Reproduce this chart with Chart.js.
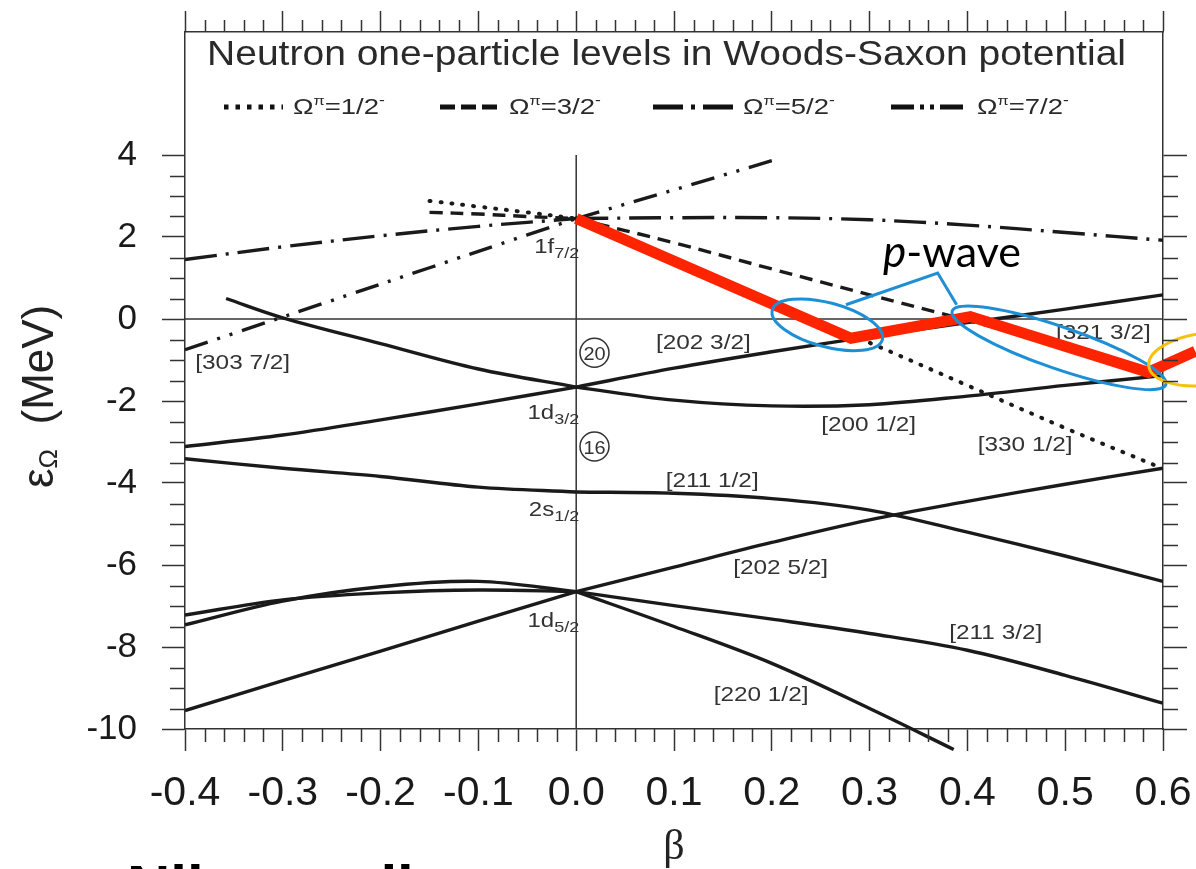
<!DOCTYPE html>
<html>
<head>
<meta charset="utf-8">
<script src="https://cdn.jsdelivr.net/npm/chart.js@4.4.1/dist/chart.umd.min.js"></script>
<style>
  html, body { margin: 0; padding: 0; background: #fff; }
  #wrap { width: 1196px; height: 869px; position: relative; }
</style>
</head>
<body>
<div id="wrap"><canvas id="chart"></canvas></div>
<script>
// ---- axes ----
const xTicks = [-0.4, -0.3, -0.2, -0.1, 0, 0.1, 0.2, 0.3, 0.4, 0.5, 0.6];
const yTicks = [-10, -8, -6, -4, -2, 0, 2, 4];

// ---- deformation grids ----
const betaLeft = [-0.4, -0.3, -0.2, -0.1, 0];
const betaRight = [0, 0.1, 0.2, 0.3, 0.4, 0.5, 0.6];
const betaNearLeft = [-0.15, -0.1, -0.05, 0];

// ---- positive parity levels (solid), MeV ----
const n202_52R = [-6.65, -6.05, -5.45, -4.9, -4.45, -4.03, -3.64];
const n202_52L = [-9.55, -8.82, -8.1, -7.37, -6.65];
const n211_32R = [-6.65, -6.99, -7.32, -7.67, -8.08, -8.69, -9.37];
const n220_12Beta = [0, 0.1, 0.2, 0.3, 0.386];
const n220_12R = [-6.65, -7.5, -8.4, -9.5, -10.5];
const d52HumpL = [-7.46, -6.88, -6.53, -6.4, -6.65];
const d52FlatL = [-7.22, -6.85, -6.68, -6.61, -6.65];
const n202_32R = [-1.66, -1.2, -0.8, -0.43, -0.09, 0.24, 0.59];
const n202_32L = [-3.11, -2.83, -2.46, -2.07, -1.66];
const n200_12R = [-1.66, -1.98, -2.12, -2.09, -1.88, -1.62, -1.38];
const n200_12LBeta = [-0.358, -0.3, -0.2, -0.1, 0];
const n200_12L = [0.5, 0.03, -0.6, -1.22, -1.66];
const n211_12R = [-4.22, -4.25, -4.38, -4.66, -5.2, -5.78, -6.4];
const n211_12L = [-3.41, -3.64, -3.84, -4.1, -4.22];

// ---- negative parity levels from 1f7/2 ----
const om12R = [2.45, 1.4, 0.4, -0.58, -1.62, -2.66, -3.65];
const om12L = [2.88, 2.74, 2.6, 2.45];
const om32R = [2.45, 1.86, 1.22, 0.59, -0.03, -0.68, -1.33];
const om32L = [2.6, 2.56, 2.5, 2.45];
const om52R = [2.45, 2.47, 2.47, 2.42, 2.29, 2.11, 1.92];
const om52L = [1.45, 1.76, 2.03, 2.26, 2.45];
const om72RBeta = [0, 0.1, 0.2];
const om72R = [2.45, 3.15, 3.86];
const om72L = [-0.75, 0.05, 0.85, 1.65, 2.45];

// ---- highlighted p-wave path ----
const pwaveBeta = [0, 0.281, 0.403, 0.585, 0.633];
const pwaveE = [2.45, -0.47, 0.06, -1.3, -0.79];

// ---- labels ----
const legendOmega = ['1/2', '3/2', '5/2', '7/2'];
const levelLabels = ['[303 7/2]', '[202 3/2]', '[200 1/2]', '[330 1/2]', '[321 3/2]', '[211 1/2]', '[202 5/2]', '[211 3/2]', '[220 1/2]'];
const levelLabelBeta = [-0.341, 0.130, 0.299, 0.459, 0.539, 0.139, 0.209, 0.429, 0.189];
const levelLabelE = [-1.215, -0.727, -2.728, -3.216, -0.483, -4.095, -6.218, -7.804, -9.317];
const orbitNames = ['1f', '1d', '2s', '1d'];
const orbitJ = ['7/2', '3/2', '1/2', '5/2'];
const orbitLabelE = [1.615, -2.436, -4.803, -7.512];
const magicNumbers = ['20', '16'];
const magicE = [-0.825, -3.111];

const FONT = '"Liberation Sans", Arial, sans-serif';
const DOT = [1, 10];
const DASH = [13, 8];
const DASHDOT = [32, 9, 3, 9];
const DASHDOT2 = [24, 10, 3, 10, 3, 10];

const pts = (bs, es) => bs.map((b, i) => ({ x: b, y: es[i] }));

function level(bs, es, dash, extra) {
  return Object.assign({
    data: pts(bs, es), borderColor: '#1a1a1a', borderWidth: 3.4, borderDash: dash || [],
    pointRadius: 0, tension: 0.35, fill: false, order: 2
  }, extra || {});
}
const dotted = { borderWidth: 4, borderCapStyle: 'round' };

const datasets = [
  { data: pts(pwaveBeta, pwaveE), borderColor: '#ff2400', borderWidth: 11, pointRadius: 0,
    tension: 0, borderJoinStyle: 'miter', clip: false, order: 0 },
  level(betaRight, n202_52R), level(betaLeft, n202_52L),
  level(betaRight, n211_32R), level(n220_12Beta, n220_12R, [], { clip: false }),
  level(betaLeft, d52HumpL), level(betaLeft, d52FlatL),
  level(betaRight, n202_32R), level(betaLeft, n202_32L),
  level(betaRight, n200_12R), level(n200_12LBeta, n200_12L),
  level(betaRight, n211_12R), level(betaLeft, n211_12L),
  level(betaRight, om12R, DOT, dotted), level(betaNearLeft, om12L, DOT, dotted),
  level(betaRight, om32R, DASH), level(betaNearLeft, om32L, DASH),
  level(betaRight, om52R, DASHDOT), level(betaLeft, om52L, DASHDOT),
  level(om72RBeta, om72R, DASHDOT2, { tension: 0 }), level(betaLeft, om72L, DASHDOT2, { tension: 0.2 }),
  { data: pts([-0.4, 0.6], [0, 0]), borderColor: '#333', borderWidth: 1.5, pointRadius: 0, order: 3 },
  { data: pts([0, 0], [4, -10]), borderColor: '#333', borderWidth: 1.5, pointRadius: 0, order: 3 }
];

// text helper with horizontal stretch
function drawRich(ctx, parts, x, y, align, sx, color) {
  ctx.save();
  ctx.fillStyle = color;
  ctx.textBaseline = 'alphabetic';
  ctx.textAlign = 'left';
  let total = 0;
  parts.forEach(p => { ctx.font = (p.style || '') + ' ' + p.size + 'px ' + (p.family || FONT); p.w = ctx.measureText(p.t).width * sx; total += p.w; });
  let cx = align === 'center' ? x - total / 2 : align === 'right' ? x - total : x;
  parts.forEach(p => {
    ctx.font = (p.style || '') + ' ' + p.size + 'px ' + (p.family || FONT);
    ctx.save();
    ctx.translate(cx, y + (p.dy || 0));
    ctx.scale(sx, 1);
    ctx.fillText(p.t, 0, 0);
    ctx.restore();
    cx += p.w;
  });
  ctx.restore();
  return total;
}

function ellipse(ctx, cx, cy, rx, ry, rotDeg, color) {
  ctx.save();
  ctx.strokeStyle = color;
  ctx.lineWidth = 3;
  ctx.beginPath();
  ctx.ellipse(cx, cy, rx, ry, rotDeg * Math.PI / 180, 0, Math.PI * 2);
  ctx.stroke();
  ctx.restore();
}

const decor = {
  id: 'decor',
  beforeDatasetsDraw(chart) {
    const { ctx, scales: { x, y } } = chart;
    levelLabels.forEach((t, i) => {
      drawRich(ctx, [{ t, size: 21 }], x.getPixelForValue(levelLabelBeta[i]), y.getPixelForValue(levelLabelE[i]), 'center', 1.16, '#333');
    });
    orbitNames.forEach((n, i) => {
      drawRich(ctx, [{ t: n, size: 20 }, { t: orbitJ[i], size: 15, dy: 5 }],
        x.getPixelForValue(0) + 3, y.getPixelForValue(orbitLabelE[i]), 'right', 1.2, '#333');
    });
    magicNumbers.forEach((m, i) => {
      const cx = x.getPixelForValue(0.0187), cy = y.getPixelForValue(magicE[i]);
      ctx.save();
      ctx.strokeStyle = '#333'; ctx.lineWidth = 1.5;
      ctx.beginPath(); ctx.arc(cx, cy, 14.5, 0, Math.PI * 2); ctx.stroke();
      ctx.restore();
      drawRich(ctx, [{ t: m, size: 19 }], cx, cy + 7, 'center', 1.05, '#333');
    });
  },
  afterDatasetsDraw(chart) {
    const { ctx, scales: { x, y } } = chart;
    ellipse(ctx, x.getPixelForValue(0.2568), y.getPixelForValue(-0.142), 57, 22, 15, '#1e8fd5');
    ellipse(ctx, x.getPixelForValue(0.4937), y.getPixelForValue(-0.703), 113, 21, 19, '#1e8fd5');
    ellipse(ctx, x.getPixelForValue(0.6433), y.getPixelForValue(-0.98), 57, 26, -7, '#f4c20d');
    // bracket from ellipses to the label
    ctx.save();
    ctx.strokeStyle = '#1e8fd5'; ctx.lineWidth = 3; ctx.lineJoin = 'miter';
    ctx.beginPath();
    ctx.moveTo(x.getPixelForValue(0.2758), y.getPixelForValue(0.347));
    ctx.lineTo(x.getPixelForValue(0.3696), y.getPixelForValue(1.12));
    ctx.lineTo(x.getPixelForValue(0.389), y.getPixelForValue(0.35));
    ctx.stroke();
    ctx.restore();
    drawRich(ctx, [{ t: 'p', size: 44, style: 'italic', family: 'Lato, sans-serif' }, { t: '-wave', size: 43, family: 'Lato, sans-serif' }],
      883, 267, 'left', 1.0, '#000');
  },
  afterDraw(chart) {
    const { ctx, chartArea: a, scales: { x, y } } = chart;
    // minor ticks
    ctx.save();
    ctx.strokeStyle = '#333'; ctx.lineWidth = 1.5;
    ctx.beginPath();
    for (let k = -20; k <= 30; k++) {
      if (k % 5 === 0) continue;
      const px = Math.round(x.getPixelForValue(k * 0.02)) + 0.5;
      ctx.moveTo(px, a.bottom); ctx.lineTo(px, a.bottom + 13);
      ctx.moveTo(px, a.top); ctx.lineTo(px, a.top - 12);
    }
    for (let k = -20; k <= 8; k++) {
      if (k % 4 === 0) continue;
      const py = Math.round(y.getPixelForValue(k * 0.5)) + 0.5;
      ctx.moveTo(a.left, py); ctx.lineTo(a.left - 15, py);
      ctx.moveTo(a.right, py); ctx.lineTo(a.right + 15, py);
    }
    ctx.stroke();
    ctx.restore();

    // title inside the frame
    ctx.save();
    ctx.font = '35px ' + FONT;
    const tw = ctx.measureText('Neutron one-particle levels in Woods-Saxon potential').width;
    ctx.restore();
    drawRich(ctx, [{ t: 'Neutron one-particle levels in Woods-Saxon potential', size: 35 }], 207, 65, 'left', 919 / tw, '#2a2a2a');

    // legend
    const dashes = [[4.5, 7], [15, 6], [30, 8, 4, 8], [23, 6, 4, 6, 4, 6]];
    const lineX = [[224, 283], [440, 497], [653, 733], [891, 967]];
    const textX = [293, 509, 743, 977];
    legendOmega.forEach((o, i) => {
      ctx.save();
      ctx.strokeStyle = '#111'; ctx.lineWidth = 5;
      ctx.setLineDash(dashes[i]);
      ctx.beginPath(); ctx.moveTo(lineX[i][0], 107); ctx.lineTo(lineX[i][1], 107); ctx.stroke();
      ctx.restore();
      drawRich(ctx, [{ t: 'Ω', size: 22 }, { t: 'π', size: 13, dy: -9 }, { t: '=' + o, size: 22 }, { t: '-', size: 14, dy: -9 }],
        textX[i], 114, 'left', 1.25, '#2a2a2a');
    });

    // y axis title with subscript
    ctx.save();
    ctx.translate(53, 488);
    ctx.rotate(-Math.PI / 2);
    drawRich(ctx, [{ t: 'ε', size: 44 }, { t: 'Ω', size: 26, dy: 4 }, { t: '  (MeV)', size: 44 }], 0, 0, 'left', 1.0, '#222');
    ctx.restore();

    // slide heading cut off at the bottom edge
    drawRich(ctx, [{ t: 'Nilsson diagram', size: 60, style: 'bold' }], 127, 907, 'left', 1.0, '#000');
  }
};

new Chart(document.getElementById('chart'), {
  type: 'line',
  data: { datasets },
  options: {
    responsive: true,
    maintainAspectRatio: false,
    animation: false,
    devicePixelRatio: 1,
    layout: { padding: 0 },
    plugins: { legend: { display: false }, tooltip: { enabled: false } },
    scales: {
      x: {
        type: 'linear', position: 'bottom', min: -0.4, max: 0.6,
        afterBuildTicks: s => { s.ticks = xTicks.map(v => ({ value: v })); },
        ticks: { callback: v => Number(v).toFixed(1), font: { family: FONT, size: 41 }, color: '#1a1a1a', padding: 18, maxRotation: 0, autoSkip: false },
        grid: { drawOnChartArea: false, tickLength: 22, tickColor: '#333', tickWidth: 1.5 },
        border: { display: true, color: '#333', width: 1.5 },
        title: { display: true, text: 'β', font: { family: '"Liberation Serif", serif', size: 42 }, color: '#222', padding: { top: 0, bottom: -4 } },
        afterFit: s => { s.height = 140; s.paddingLeft = 0; s.paddingRight = 0; }
      },
      x2: {
        type: 'linear', position: 'top', min: -0.4, max: 0.6,
        afterBuildTicks: s => { s.ticks = xTicks.map(v => ({ value: v })); },
        ticks: { display: false },
        grid: { drawOnChartArea: false, tickLength: 21, tickColor: '#333', tickWidth: 1.5 },
        border: { display: true, color: '#333', width: 1.5 },
        afterFit: s => { s.height = 32; s.paddingLeft = 0; s.paddingRight = 0; }
      },
      y: {
        type: 'linear', position: 'left', min: -10, max: 7,
        afterBuildTicks: s => { s.ticks = yTicks.map(v => ({ value: v })); },
        ticks: { callback: v => String(v), font: { family: FONT, size: 35 }, color: '#1a1a1a', padding: 25 },
        grid: { drawOnChartArea: false, tickLength: 23, tickColor: '#333', tickWidth: 1.5 },
        border: { display: true, color: '#333', width: 1.5 },
        afterFit: s => { s.width = 185; s.paddingTop = 0; s.paddingBottom = 0; }
      },
      y2: {
        type: 'linear', position: 'right', min: -10, max: 7,
        afterBuildTicks: s => { s.ticks = yTicks.map(v => ({ value: v })); },
        ticks: { display: false },
        grid: { drawOnChartArea: false, tickLength: 24, tickColor: '#333', tickWidth: 1.5 },
        border: { display: true, color: '#333', width: 1.5 },
        afterFit: s => { s.width = 33; s.paddingTop = 0; s.paddingBottom = 0; }
      }
    }
  },
  plugins: [decor]
});
</script>
</body>
</html>
